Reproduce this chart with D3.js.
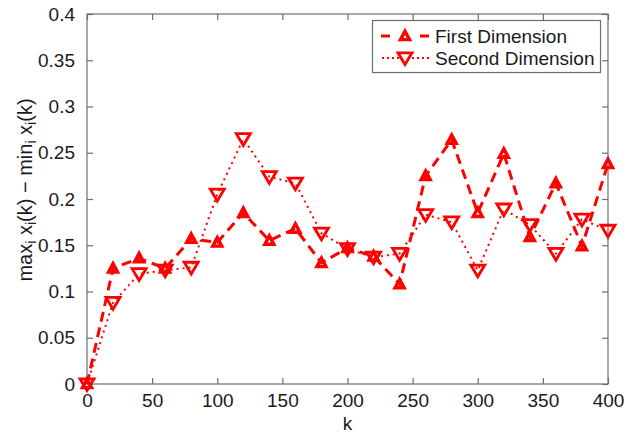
<!DOCTYPE html>
<html>
<head>
<meta charset="utf-8">
<script src="https://cdn.jsdelivr.net/npm/d3@7"></script>
<style>
  html, body { margin: 0; padding: 0; background: #fff; }
  svg { display: block; }
  text { font-family: "Liberation Sans", Arial, Helvetica, sans-serif; fill: #1a1a1a; }
</style>
</head>
<body>
<svg id="chart" width="636" height="435"></svg>
<script>
const kValues = [0, 20, 40, 60, 80, 100, 120, 140, 160, 180, 200, 220, 240, 260, 280, 300, 320, 340, 360, 380, 400];
const firstDimension = [0, 0.125, 0.136, 0.125, 0.157, 0.153, 0.185, 0.155, 0.168, 0.131, 0.147, 0.138, 0.108, 0.225, 0.264, 0.185, 0.249, 0.159, 0.217, 0.149, 0.238];
const secondDimension = [0, 0.088, 0.119, 0.123, 0.126, 0.205, 0.265, 0.224, 0.217, 0.163, 0.146, 0.137, 0.141, 0.183, 0.175, 0.123, 0.189, 0.172, 0.141, 0.178, 0.166];
const xTicks = [0, 50, 100, 150, 200, 250, 300, 350, 400];
const yTicks = [0, 0.05, 0.1, 0.15, 0.2, 0.25, 0.3, 0.35, 0.4];
const seriesNames = ["First Dimension", "Second Dimension"];

const svg = d3.select("#chart");
const margin = { left: 87, right: 608, top: 14, bottom: 384 };
const x = d3.scaleLinear().domain([0, 400]).range([margin.left, margin.right]);
const y = d3.scaleLinear().domain([0, 0.4]).range([margin.bottom, margin.top]);
const axisColor = "#6e6e6e";
const red = "#ff0000";
const fontSize = 19;

// Plot box
svg.append("rect")
  .attr("x", margin.left).attr("y", margin.top)
  .attr("width", margin.right - margin.left).attr("height", margin.bottom - margin.top)
  .attr("fill", "none").attr("stroke", axisColor).attr("stroke-width", 1.2);

function styleAxis(g, showLabels) {
  g.select(".domain").remove();
  g.selectAll(".tick line").attr("stroke", axisColor).attr("stroke-width", 1.2);
  g.selectAll(".tick text")
    .style("font-size", fontSize + "px")
    .attr("fill", "#1a1a1a")
    .style("display", showLabels ? null : "none");
}

const tickLen = 6;
svg.append("g").attr("transform", `translate(0,${margin.bottom})`)
  .call(d3.axisBottom(x).tickValues(xTicks).tickSizeInner(-tickLen).tickSizeOuter(0).tickPadding(10).tickFormat(d3.format("d")))
  .call(g => styleAxis(g, true));
svg.append("g").attr("transform", `translate(0,${margin.top})`)
  .call(d3.axisTop(x).tickValues(xTicks).tickSizeInner(-tickLen).tickSizeOuter(0))
  .call(g => styleAxis(g, false));
svg.append("g").attr("transform", `translate(${margin.left},0)`)
  .call(d3.axisLeft(y).tickValues(yTicks).tickSizeInner(-tickLen).tickSizeOuter(0).tickPadding(12).tickFormat(d => d === 0 ? "0" : String(+d.toFixed(2))))
  .call(g => styleAxis(g, true));
svg.append("g").attr("transform", `translate(${margin.right},0)`)
  .call(d3.axisRight(y).tickValues(yTicks).tickSizeInner(-tickLen).tickSizeOuter(0))
  .call(g => styleAxis(g, false));

// Axis labels
svg.append("text").attr("x", (margin.left + margin.right) / 2).attr("y", 430)
  .attr("text-anchor", "middle").style("font-size", fontSize + "px").text("k");

const yl = svg.append("text")
  .attr("transform", `translate(32,190) rotate(-90)`)
  .attr("text-anchor", "middle").style("font-size", "20px");
const parts = [["max", false], ["i", true], [" x", false], ["i", true], ["(k) \u2212 min", false], ["i", true], [" x", false], ["i", true], ["(k)", false]];
parts.forEach(([t, sub]) => {
  const ts = yl.append("tspan").text(t);
  if (sub) ts.attr("baseline-shift", "-30%").style("font-size", "14px");
});

// Markers
const upTri = "M0,-4.8 L4.5,3.6 L-4.5,3.6 Z";
const downTri = "M0,6.6 L7,-5.2 L-7,-5.2 Z";

const pts1 = kValues.map((k, i) => [k, firstDimension[i]]);
const pts2 = kValues.map((k, i) => [k, secondDimension[i]]);
const line = d3.line().x(d => x(d[0])).y(d => y(d[1]));

svg.append("path").datum(pts2).attr("d", line)
  .attr("fill", "none").attr("stroke", red).attr("stroke-width", 2)
  .attr("stroke-dasharray", "2,4");
svg.append("path").datum(pts1).attr("d", line)
  .attr("fill", "none").attr("stroke", red).attr("stroke-width", 3)
  .attr("stroke-dasharray", "10,6");

svg.append("g").selectAll("path").data(pts2).join("path")
  .attr("d", downTri).attr("transform", d => `translate(${x(d[0])},${y(d[1])})`)
  .attr("fill", "none").attr("stroke", red).attr("stroke-width", 2.8).attr("stroke-linejoin", "miter");
svg.append("g").selectAll("path").data(pts1).join("path")
  .attr("d", upTri).attr("transform", d => `translate(${x(d[0])},${y(d[1])})`)
  .attr("fill", "none").attr("stroke", red).attr("stroke-width", 3.4).attr("stroke-linejoin", "miter");

// Legend
const lg = svg.append("g");
lg.append("rect").attr("x", 372.5).attr("y", 20.5).attr("width", 228).attr("height", 52)
  .attr("fill", "#fff").attr("stroke", axisColor).attr("stroke-width", 1.2);
const ly1 = 36, ly2 = 58;
lg.append("line").attr("x1", 381).attr("x2", 429).attr("y1", ly1).attr("y2", ly1)
  .attr("stroke", red).attr("stroke-width", 3).attr("stroke-dasharray", "9,30");
lg.append("path").attr("d", upTri).attr("transform", `translate(405,${ly1})`)
  .attr("fill", "none").attr("stroke", red).attr("stroke-width", 3.4);
lg.append("line").attr("x1", 382).attr("x2", 429).attr("y1", ly2).attr("y2", ly2)
  .attr("stroke", red).attr("stroke-width", 2).attr("stroke-dasharray", "2,3");
lg.append("path").attr("d", downTri).attr("transform", `translate(405,${ly2})`)
  .attr("fill", "#fff").attr("stroke", red).attr("stroke-width", 2.8);
lg.append("text").attr("x", 435).attr("y", ly1 + 7).style("font-size", fontSize + "px").text(seriesNames[0]);
lg.append("text").attr("x", 435).attr("y", ly2 + 7).style("font-size", fontSize + "px").text(seriesNames[1]);
</script>
</body>
</html>
